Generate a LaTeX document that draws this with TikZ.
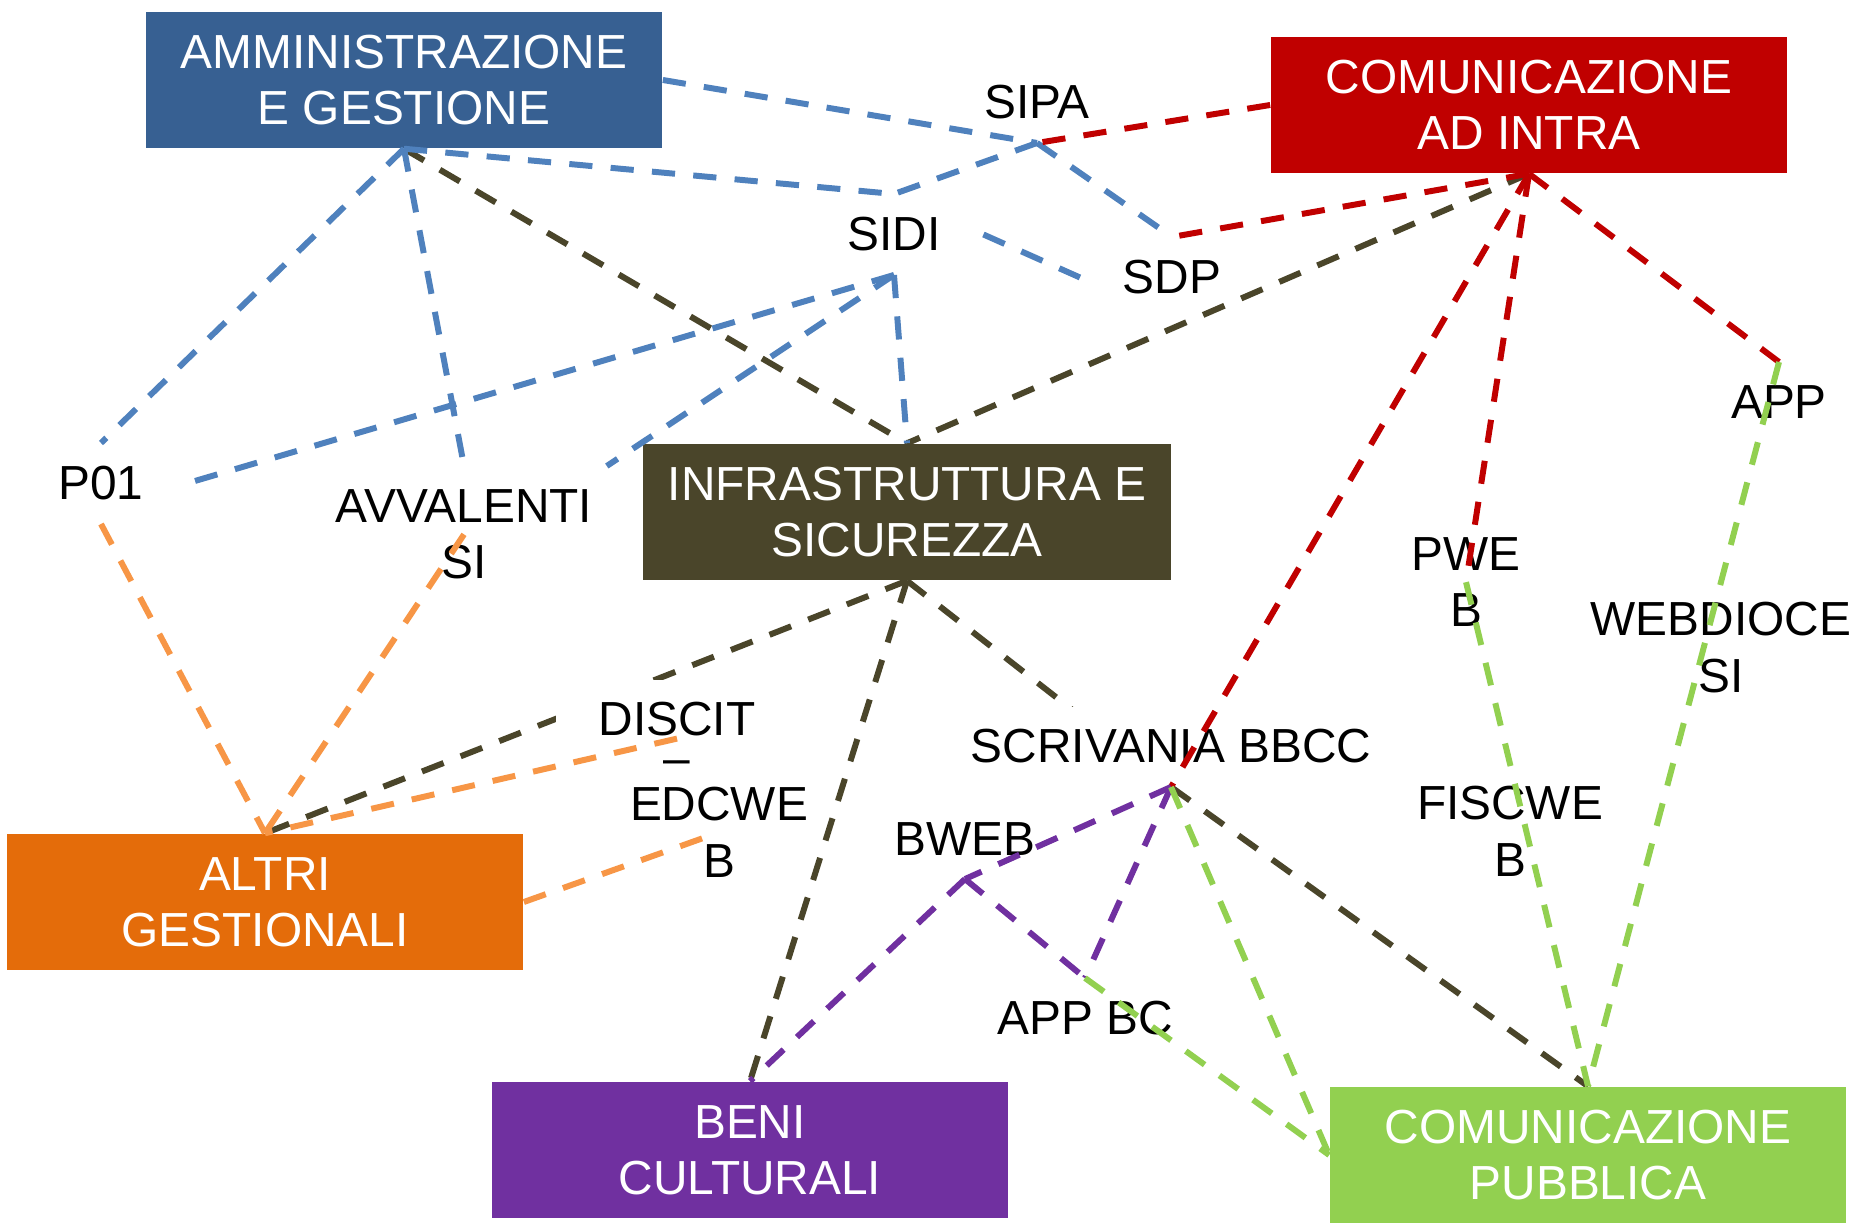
\documentclass[tikz,border=0pt]{standalone}
\usepackage{fontspec}
\setmainfont{Liberation Sans}
\usetikzlibrary{backgrounds}

\definecolor{ammblue}{HTML}{376092}
\definecolor{intrared}{HTML}{C00000}
\definecolor{infraolive}{HTML}{4A452A}
\definecolor{altriorange}{HTML}{E46C0A}
\definecolor{benipurple}{HTML}{7030A0}
\definecolor{pubgreen}{HTML}{92D050}
\definecolor{lineblue}{HTML}{4F81BD}
\definecolor{lineorange}{HTML}{F79646}

\begin{document}
\begin{tikzpicture}[x=0.01cm, y=-0.01cm,
    areabox/.style={rectangle, minimum width=5.16cm, minimum height=1.36cm, text=white, align=center, font=\fontsize{13.6}{16}\selectfont},
    sysnode/.style={anchor=north, align=center, inner xsep=12pt, inner ysep=6.5pt, font=\fontsize{13.6}{16}\selectfont},
    conn/.style={line width=1.7pt, dash pattern=on 6.6pt off 5.2pt}]
        \useasboundingbox (0,0) rectangle (1864,1225);

        % Areas
        \node[areabox, fill=ammblue] (amm) at (404,80) {AMMINISTRAZIONE\\E GESTIONE};
        \node[areabox, fill=intrared] (intra) at (1529,105) {COMUNICAZIONE\\AD INTRA};
        \node[areabox, fill=infraolive, minimum width=5.28cm] (infra) at (907,512) {INFRASTRUTTURA E\\SICUREZZA};
        \node[areabox, fill=altriorange] (altri) at (265,902) {ALTRI\\GESTIONALI};
        \node[areabox, fill=benipurple] (beni) at (750,1150) {BENI\\CULTURALI};
        \node[areabox, fill=pubgreen] (pubblica) at (1588,1155) {COMUNICAZIONE\\PUBBLICA};

        % Systems
        \node[sysnode] (sipa) at (1037,62) {SIPA};
        \node[sysnode] (sidi) at (894,194) {SIDI};
        \node[sysnode] (sdp) at (1172,237) {SDP};
        \node[sysnode] (app) at (1779,362) {APP};
        \node[sysnode] (p01) at (101,443) {P01};
        \node[sysnode, inner xsep=4pt] (avvalenti) at (464,466) {AVVALENTI\\SI};
        \node[sysnode] (pweb) at (1466,514) {PWE\\B};
        \node[sysnode] (webdiocesi) at (1721,579) {WEBDIOCE\\SI};
        \node[sysnode, fill=white] (discit) at (677,679) {DISCIT\\[-5pt]–};
        \node[sysnode, fill=white] (scrivania) at (1171,706) {SCRIVANIA BBCC};
        \node[sysnode] (edcweb) at (719,764) {EDCWE\\B};
        \node[sysnode] (fiscweb) at (1510,763) {FISCWE\\B};
        \node[sysnode] (bweb) at (965,799) {BWEB};
        \node[sysnode] (appbc) at (1085,978) {APP BC};

        % Connections of infrastruttura (below the systems)
        \begin{pgfonlayer}{background}
        \draw[conn, infraolive] (amm.south) -- (infra.north);
        \draw[conn, infraolive] (intra.south) -- (infra.north);
        \draw[conn, infraolive] (infra.south) -- (altri.north);
        \draw[conn, infraolive] (infra.south) -- (beni.north);
        \draw[conn, infraolive] (infra.south) -- (scrivania.south);
        \draw[conn, infraolive] (scrivania.south) -- (pubblica.north);
        \end{pgfonlayer}

        % Connections of amministrazione
        \draw[conn, lineblue] (amm.east) -- (sipa.south);
        \draw[conn, lineblue] (amm.south) -- (sidi.north);
        \draw[conn, lineblue] (amm.south) -- (p01.north);
        \draw[conn, lineblue] (amm.south) -- (avvalenti.north);
        \draw[conn, lineblue] (sipa.south) -- (sidi.north);
        \draw[conn, lineblue] (sipa.south) -- (sdp.north);
        \draw[conn, lineblue] (sidi.south) -- (p01.east);
        \draw[conn, lineblue] (sidi.south) -- (avvalenti.north east);
        \draw[conn, lineblue] (sidi.south) -- (infra.north);
        \draw[conn, lineblue] (sidi.east) -- (sdp.west);

        % Connections of comunicazione ad intra
        \draw[conn, intrared] (intra.west) -- (sipa.south);
        \draw[conn, intrared] (intra.south) -- (sdp.north);
        \draw[conn, intrared] (intra.south) -- (app.north);
        \draw[conn, intrared] (intra.south) -- (pweb.center);
        \draw[conn, intrared] (intra.south) -- (scrivania.south);

        % Connections of altri gestionali
        \draw[conn, lineorange] (p01.south) -- (altri.north);
        \draw[conn, lineorange] (avvalenti.center) -- (altri.north);
        \draw[conn, lineorange] (discit.center) -- (altri.north);
        \draw[conn, lineorange] (altri.east) -- (edcweb.center);

        % Connections of beni culturali
        \draw[conn, benipurple] (scrivania.south) -- (bweb.south);
        \draw[conn, benipurple] (bweb.south) -- (beni.north);
        \draw[conn, benipurple] (bweb.south) -- (appbc.north);
        \draw[conn, benipurple] (scrivania.south) -- (appbc.north);

        % Connections of comunicazione pubblica
        \draw[conn, pubgreen] (app.north) -- (pubblica.north);
        \draw[conn, pubgreen] (pweb.center) -- (pubblica.north);
        \draw[conn, pubgreen] (scrivania.south) -- (pubblica.west);
        \draw[conn, pubgreen] (appbc.north) -- (pubblica.west);
    \end{tikzpicture}
\end{document}
